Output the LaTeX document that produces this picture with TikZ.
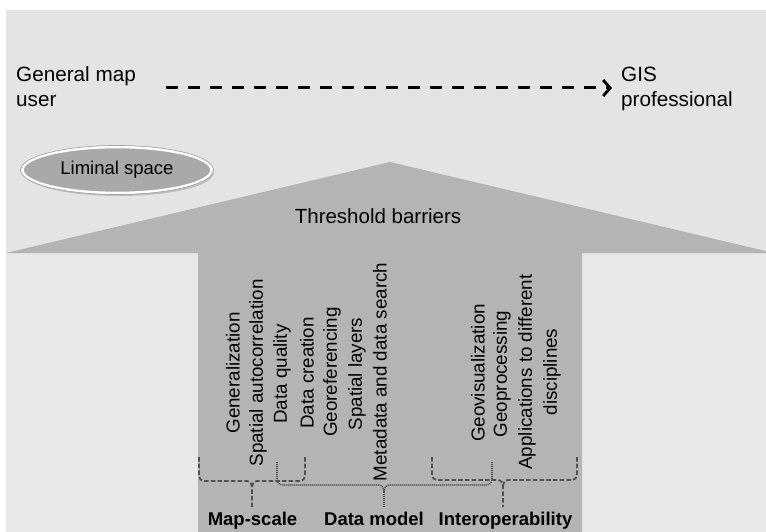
\documentclass[tikz,border=0pt]{standalone}
\usepackage{fontspec}
\setmainfont{Liberation Sans}
\usetikzlibrary{arrows.meta,shapes.geometric,shadows}
\definecolor{bggray}{HTML}{E4E4E4}
\definecolor{lowgray}{HTML}{E8E8E8}
\definecolor{arrowgray}{HTML}{B4B4B4}
\definecolor{ellgray}{HTML}{A9A9A9}
\definecolor{bracegray}{HTML}{505050}
\tikzset{
  toplabel/.style={inner sep=0pt, align=left, font=\fontsize{20.7}{25}\selectfont},
  rotlabel/.style={inner sep=0pt, rotate=90, align=center, font=\fontsize{18.8}{25}\selectfont},
  grouplabel/.style={inner sep=0pt, anchor=base, font=\fontsize{18.5}{22}\selectfont\bfseries},
  bracedash/.style={draw=bracegray, line width=1.8pt, dash pattern=on 4.5pt off 2.2pt},
  bracedot/.style={draw=bracegray, line width=1.6pt, dash pattern=on 1pt off 1pt},
  progress/.style={line width=3pt, dash pattern=on 12pt off 10pt, -{Straight Barb[length=7pt,width=16pt,line width=2.8pt]}},
}
\begin{document}
\begin{tikzpicture}[x=1pt,y=-1pt]
\useasboundingbox (0,0) rectangle (766,532);
\fill[white] (0,0) rectangle (766,532);
\fill[bggray] (6,10) rectangle (766,532);
\fill[lowgray] (6,254) rectangle (198,532);
\fill[lowgray] (582,254) rectangle (766,532);
% big arrow
\fill[arrowgray] (6,253) -- (390,162) -- (766,251.1) -- (766,253) -- (582,253)
  -- (582,532) -- (198,532) -- (198,253) -- cycle;

% top labels and progression arrow
\node[toplabel, anchor=west] (gen) at (16,87) {General map\\user};
\node[toplabel, anchor=west] (gis) at (621,89) {GIS\\professional};
\draw[progress, shorten <=30pt, shorten >=9pt] (gen.east |- 0,88) -- (gis.west |- 0,88);

% liminal space
\node[ellipse, draw=white, line width=2.6pt, fill=ellgray, minimum width=189pt, minimum height=46pt, inner sep=0pt,
  drop shadow={opacity=0.4, shadow xshift=2pt, shadow yshift=-3pt},
  font=\fontsize{18.5}{22}\selectfont] (lim) at (117,170) {Liminal space};
\draw[gray!70, line width=0.7pt] (lim.center) ellipse [x radius=96.5, y radius=24.5];

\node[inner sep=0pt, font=\fontsize{20.5}{24}\selectfont] (thr) at (378,216) {Threshold barriers};

% rotated concepts
\node[rotlabel] (c1) at (233,373) {Generalization};
\node[rotlabel] (c2) at (258,373) {Spatial autocorrelation};
\node[rotlabel] (c3) at (282,374) {Data quality};
\node[rotlabel] (c4) at (307,373) {Data creation};
\node[rotlabel] (c5) at (332,372) {Georeferencing};
\node[rotlabel] (c6) at (357,374) {Spatial layers};
\node[rotlabel] (c7) at (380,372) {Metadata and data search};
\node[rotlabel] (c8) at (478,373) {Geovisualization};
\node[rotlabel] (c9) at (502,374) {Geoprocessing};
\node[rotlabel] (c10) at (539.5,372) {Applications to different\\disciplines};

% group labels
\node[grouplabel] (g1) at (252.5,525) {Map-scale};
\node[grouplabel] (g2) at (374,525) {Data model};
\node[grouplabel] (g3) at (505.5,525) {Interoperability};

% braces
\draw[bracedash] (199,457) -- (199,476) to[out=-90,in=180] (204,481) -- (247,481) to[out=0,in=90] (252,488) -- (252,507);
\draw[bracedash] (305,457) -- (305,476) to[out=-90,in=0] (300,481) -- (257,481) to[out=180,in=90] (252,488);
\draw[bracedot] (277,462) -- (277,480) to[out=-90,in=180] (282,485) -- (379,485) to[out=0,in=90] (384,492) -- (384,507);
\draw[bracedot] (492,462) -- (492,480) to[out=-90,in=0] (487,485) -- (389,485) to[out=180,in=90] (384,492);
\draw[bracedash] (432,457) -- (432,475) to[out=-90,in=180] (437,480) -- (498,480) to[out=0,in=90] (503,487) -- (503,507);
\draw[bracedash] (577,457) -- (577,475) to[out=-90,in=0] (572,480) -- (508,480) to[out=180,in=90] (503,487);
\end{tikzpicture}
\end{document}
